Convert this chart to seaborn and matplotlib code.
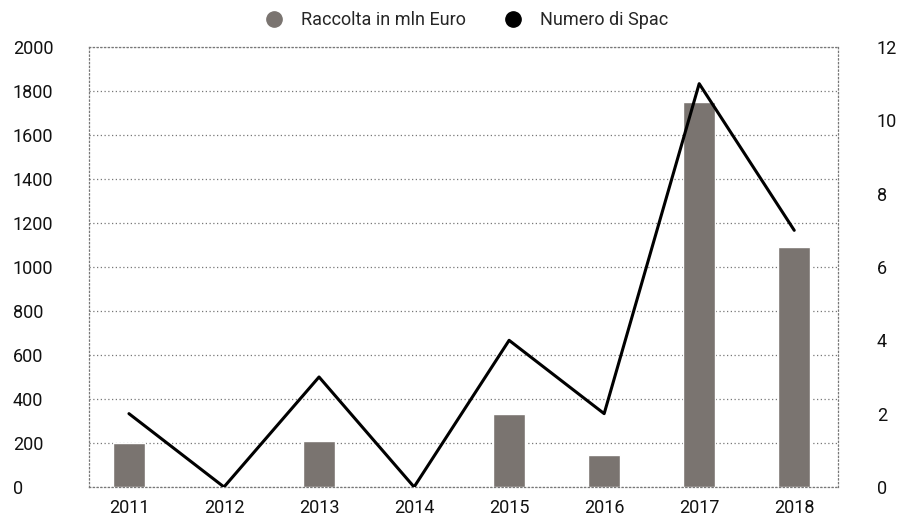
import numpy as np
import matplotlib.pyplot as plt
import seaborn as sns
from matplotlib.lines import Line2D

# data
YEARS = ['2011', '2012', '2013', '2014', '2015', '2016', '2017', '2018']
RACCOLTA = [200, 0, 210, 0, 330, 145, 1750, 1090]   # mln Euro (left axis)
NUM_SPAC = [2, 0, 3, 0, 4, 2, 11, 7]                  # right axis
LEFT_TICKS = list(range(0, 2001, 200))
RIGHT_TICKS = list(range(0, 13, 2))

BAR_COLOR = '#7a7470'
GRID_COLOR = '#777777'
DOTS = (0, (1, 2))

sns.set_theme(style='white')
plt.rcParams['font.family'] = ['Roboto', 'DejaVu Sans']

fig = plt.figure(figsize=(9.15, 5.21), dpi=100)
ax = fig.add_axes([0.0973, 0.0653, 0.8185, 0.8445])

sns.barplot(x=YEARS, y=RACCOLTA, color=BAR_COLOR, saturation=1, width=0.34, ax=ax)
ax.set_ylim(0, 2000)
ax.set_xlim(-0.42, 7.46)
ax.set_yticks(LEFT_TICKS)
ax.set_yticklabels([str(t) for t in LEFT_TICKS], ha='left')
ax.tick_params(axis='y', length=0, pad=55, labelsize=13, colors='#111111')
ax.tick_params(axis='x', length=0, pad=9, labelsize=13, colors='#111111')
ax.set_xlabel('')
ax.set_ylabel('')
ax.yaxis.grid(True, linestyle=DOTS, color=GRID_COLOR, linewidth=0.9)
ax.set_axisbelow(True)
for s in ax.spines.values():
    s.set_visible(True)
    s.set_linestyle(DOTS)
    s.set_color(GRID_COLOR)
    s.set_linewidth(0.9)

ax2 = ax.twinx()
sns.lineplot(x=np.arange(len(YEARS)), y=NUM_SPAC, color='black', linewidth=2.2, ax=ax2)
ax2.set_ylim(0, 12)
ax2.set_xlim(-0.42, 7.46)
ax2.set_yticks(RIGHT_TICKS)
ax2.tick_params(axis='y', length=0, pad=28, labelsize=13, colors='#111111')
ax2.set_ylabel('')
for s in ax2.spines.values():
    s.set_visible(False)

handles = [
    Line2D([], [], marker='o', linestyle='', markersize=11, color=BAR_COLOR, label='Raccolta in mln Euro'),
    Line2D([], [], marker='o', linestyle='', markersize=11, color='black', label='Numero di Spac'),
]
fig.legend(handles=handles, loc='upper center', bbox_to_anchor=(0.505, 1.01), ncol=2,
           frameon=False, fontsize=13, handletextpad=0.5, columnspacing=1.6)

fig.savefig('out.png', dpi=100)
